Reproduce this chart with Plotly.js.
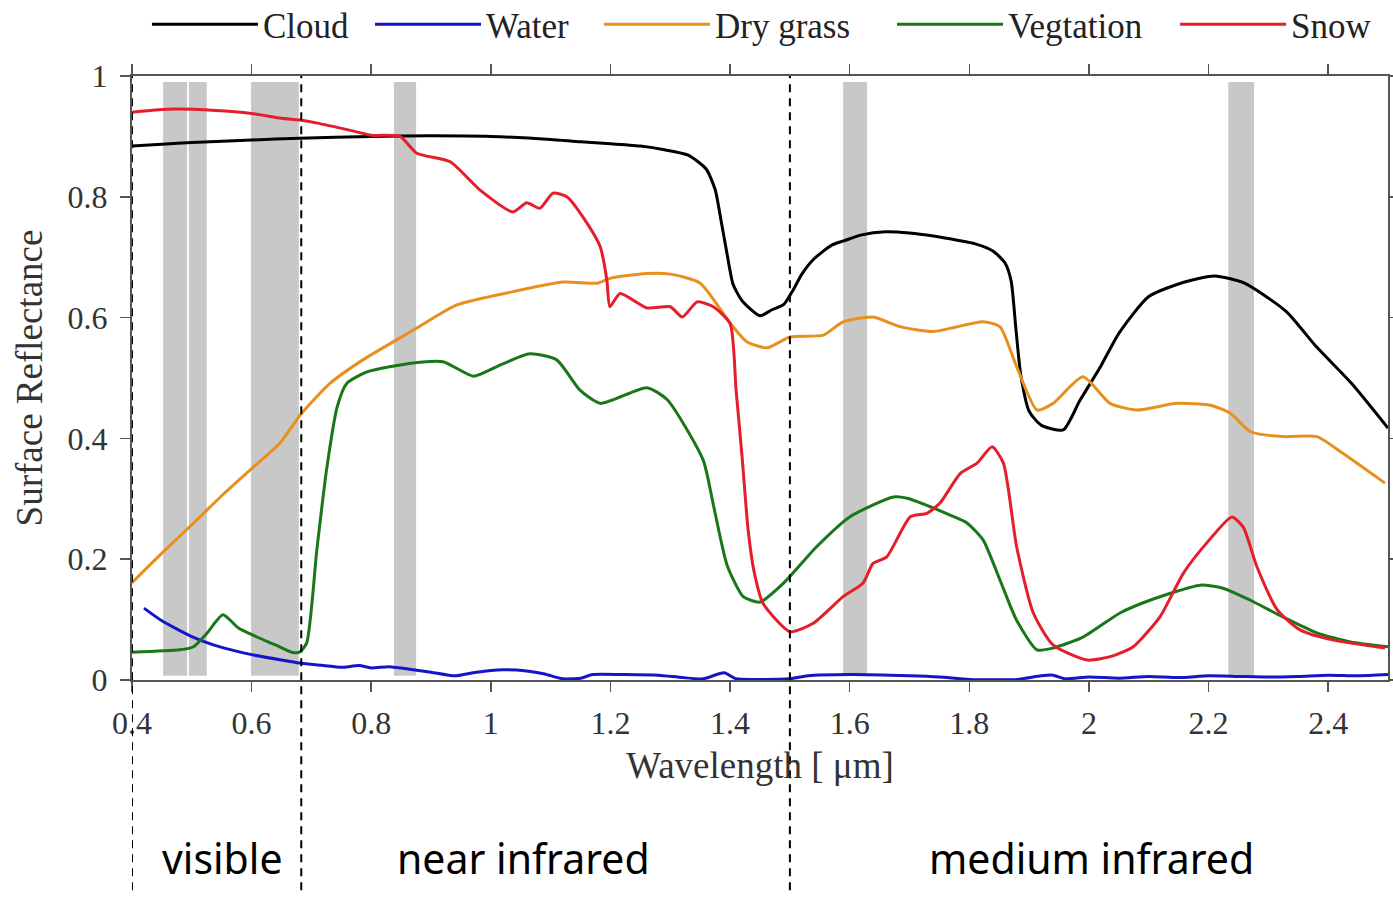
<!DOCTYPE html>
<html>
<head>
<meta charset="utf-8">
<script src="https://cdn.plot.ly/plotly-3.0.1.min.js"></script>
<style>
  html, body { margin: 0; padding: 0; background: #ffffff; }
  #chart { width: 1393px; height: 899px; }
</style>
</head>
<body>
<div id="chart"></div>
<script>
// ---- Data ----
const seriesNames = ["Cloud", "Water", "Dry grass", "Vegtation", "Snow"];

const cloudX = [0.40,0.45,0.50,0.60,0.68,0.80,0.90,1.00,1.10,1.15,1.20,1.25,1.29,1.33,1.36,1.375,1.385,1.395,1.405,1.42,1.45,1.47,1.49,1.505,1.52,1.54,1.57,1.59,1.62,1.66,1.70,1.74,1.78,1.81,1.84,1.86,1.87,1.878,1.886,1.90,1.92,1.957,1.985,2.02,2.05,2.10,2.16,2.21,2.26,2.33,2.38,2.44,2.50];
const cloudY = [0.884,0.887,0.890,0.894,0.897,0.900,0.901,0.900,0.895,0.891,0.888,0.884,0.878,0.869,0.846,0.812,0.760,0.705,0.655,0.628,0.603,0.613,0.622,0.645,0.672,0.697,0.720,0.727,0.737,0.742,0.740,0.735,0.728,0.722,0.710,0.690,0.660,0.580,0.505,0.445,0.422,0.414,0.463,0.520,0.574,0.635,0.659,0.669,0.657,0.610,0.552,0.490,0.417];

const waterX = [0.42,0.45,0.50,0.55,0.60,0.65,0.68,0.72,0.75,0.78,0.80,0.83,0.87,0.90,0.94,0.97,1.02,1.06,1.09,1.12,1.15,1.17,1.22,1.28,1.32,1.355,1.39,1.41,1.45,1.50,1.53,1.60,1.70,1.75,1.80,1.88,1.92,1.94,1.96,2.00,2.05,2.10,2.15,2.20,2.25,2.30,2.35,2.40,2.45,2.50];
const waterY = [0.119,0.098,0.072,0.054,0.042,0.033,0.028,0.024,0.021,0.024,0.020,0.022,0.017,0.013,0.007,0.012,0.017,0.015,0.010,0.002,0.003,0.009,0.009,0.008,0.004,0.002,0.012,0.002,0.001,0.002,0.007,0.009,0.007,0.005,0.001,0.001,0.007,0.008,0.002,0.005,0.003,0.006,0.004,0.007,0.006,0.005,0.006,0.008,0.007,0.009];

const grassX = [0.40,0.45,0.50,0.55,0.60,0.647,0.684,0.731,0.786,0.87,0.943,1.037,1.121,1.178,1.199,1.26,1.30,1.35,1.40,1.428,1.462,1.50,1.556,1.589,1.639,1.684,1.739,1.823,1.851,1.879,1.913,1.94,1.99,2.035,2.08,2.147,2.203,2.236,2.27,2.325,2.381,2.425,2.495];
const grassY = [0.161,0.210,0.257,0.305,0.350,0.392,0.442,0.491,0.530,0.579,0.621,0.643,0.659,0.657,0.665,0.673,0.672,0.657,0.591,0.560,0.550,0.568,0.571,0.593,0.601,0.585,0.577,0.593,0.585,0.519,0.447,0.458,0.502,0.458,0.447,0.458,0.455,0.442,0.411,0.403,0.403,0.375,0.326];

const vegX = [0.40,0.48,0.503,0.525,0.552,0.578,0.607,0.64,0.667,0.68,0.692,0.709,0.726,0.743,0.759,0.793,0.87,0.92,0.971,1.01,1.065,1.11,1.149,1.183,1.261,1.295,1.355,1.372,1.395,1.422,1.45,1.489,1.545,1.60,1.673,1.696,1.768,1.796,1.823,1.851,1.879,1.913,1.94,1.99,2.052,2.102,2.186,2.224,2.27,2.325,2.381,2.437,2.50];
const vegY = [0.046,0.050,0.055,0.077,0.108,0.086,0.072,0.058,0.046,0.046,0.061,0.215,0.353,0.452,0.491,0.510,0.525,0.527,0.503,0.519,0.540,0.530,0.480,0.458,0.484,0.464,0.364,0.290,0.190,0.138,0.129,0.160,0.221,0.270,0.303,0.301,0.273,0.260,0.232,0.166,0.099,0.050,0.053,0.071,0.111,0.132,0.157,0.152,0.132,0.104,0.078,0.063,0.055];

const snowX = [0.40,0.46,0.54,0.60,0.65,0.68,0.71,0.765,0.80,0.848,0.876,0.932,0.982,1.037,1.06,1.082,1.104,1.127,1.161,1.183,1.194,1.199,1.216,1.261,1.30,1.32,1.345,1.372,1.40,1.41,1.42,1.43,1.44,1.455,1.50,1.539,1.589,1.622,1.639,1.662,1.701,1.729,1.751,1.785,1.813,1.838,1.857,1.879,1.907,1.94,1.997,2.04,2.074,2.119,2.158,2.197,2.239,2.258,2.281,2.315,2.353,2.409,2.495];
const snowY = [0.940,0.945,0.943,0.938,0.930,0.927,0.922,0.910,0.902,0.900,0.872,0.858,0.811,0.775,0.790,0.781,0.806,0.800,0.756,0.717,0.662,0.618,0.640,0.616,0.618,0.601,0.626,0.618,0.590,0.480,0.370,0.250,0.180,0.127,0.080,0.094,0.138,0.160,0.193,0.204,0.270,0.276,0.293,0.342,0.359,0.386,0.359,0.221,0.111,0.058,0.033,0.040,0.055,0.105,0.177,0.227,0.270,0.253,0.187,0.116,0.083,0.066,0.053];

// Grey band (start, end) in micrometres
const bandStart = [0.452,0.495,0.599,0.838,1.589,2.233];
const bandEnd   = [0.492,0.525,0.679,0.875,1.629,2.276];

// Region boundaries and labels
const regionLines = [0.4, 0.683, 1.5];
const regionLabels = ["visible", "near infrared", "medium infrared"];
const regionCenters = [0.551, 1.054, 2.005];

const xTicks = [0.4,0.6,0.8,1.0,1.2,1.4,1.6,1.8,2.0,2.2,2.4];
const xTickText = ["0.4","0.6","0.8","1","1.2","1.4","1.6","1.8","2","2.2","2.4"];
const yTicks = [0,0.2,0.4,0.6,0.8,1];
const yTickText = ["0","0.2","0.4","0.6","0.8","1"];

const colors = ["#000000", "#1414c8", "#e8901e", "#187818", "#e41e2a"];

// Paper-x position of each legend entry (one legend per series)
const legendIds = ["legend", "legend2", "legend3", "legend4", "legend5"];
const legendPos = [0.0119, 0.1895, 0.3718, 0.6051, 0.8305];

// ---- Build traces ----
const xs = [cloudX, waterX, grassX, vegX, snowX];
const ys = [cloudY, waterY, grassY, vegY, snowY];
const traces = seriesNames.map((n, i) => ({
  x: xs[i], y: ys[i], name: n, type: "scatter", mode: "lines",
  legend: legendIds[i],
  line: { color: colors[i], width: 3, shape: "spline", smoothing: 0.6 }
}));

const shapes = [];
bandStart.forEach((s, i) => {
  shapes.push({ type: "rect", xref: "x", yref: "y", x0: s, x1: bandEnd[i], y0: 0.007, y1: 0.99,
    fillcolor: "#c8c8c8", line: { width: 0 }, layer: "below" });
});
regionLines.forEach(v => {
  shapes.push({ type: "line", xref: "x", yref: "paper", x0: v, x1: v, y0: -0.348, y1: 1,
    line: { color: "#000000", width: 2, dash: "8px,6px" } });
});

const annotations = regionLabels.map((t, i) => ({
  text: t, xref: "x", yref: "paper", x: regionCenters[i], y: -0.295,
  showarrow: false, xanchor: "center", yanchor: "middle",
  font: { family: "Liberation Sans Narrow, Noto Sans, sans-serif", size: 41, color: "#000" }
}));

const serif = "Liberation Serif, Times New Roman, serif";
const layout = {
  width: 1393, height: 899,
  margin: { l: 132, r: 5, t: 76, b: 219, autoexpand: false },
  paper_bgcolor: "#ffffff", plot_bgcolor: "#ffffff",
  showlegend: true,
  xaxis: {
    range: [0.4, 2.5], tickvals: xTicks, ticktext: xTickText,
    ticks: "outside", ticklen: 10, tickwidth: 1.5, tickcolor: "#555",
    showline: true, linecolor: "#555", linewidth: 2, mirror: "ticks",
    showgrid: false, zeroline: false,
    tickfont: { family: serif, size: 32, color: "#333" },
    ticklabelstandoff: 4,
    title: { text: "Wavelength [ μm]", font: { family: serif, size: 37, color: "#333" }, standoff: 12 }
  },
  yaxis: {
    range: [0, 1], tickvals: yTicks, ticktext: yTickText,
    ticks: "outside", ticklen: 10, tickwidth: 1.5, tickcolor: "#555",
    showline: true, linecolor: "#555", linewidth: 2, mirror: "ticks",
    showgrid: false, zeroline: false,
    tickfont: { family: serif, size: 32, color: "#333" },
    ticklabelstandoff: 6,
    title: { text: "Surface Reflectance", font: { family: serif, size: 37, color: "#333" }, standoff: 14 }
  },
  shapes: shapes,
  annotations: annotations
};

legendIds.forEach((id, i) => {
  layout[id] = {
    orientation: "h", x: legendPos[i], xanchor: "left", y: 1.134, yanchor: "top",
    font: { family: serif, size: 35, color: "#222" }, itemwidth: 106,
    bgcolor: "rgba(0,0,0,0)", borderwidth: 0
  };
});

Plotly.newPlot("chart", traces, layout, { displayModeBar: false, staticPlot: true });
</script>
</body>
</html>
